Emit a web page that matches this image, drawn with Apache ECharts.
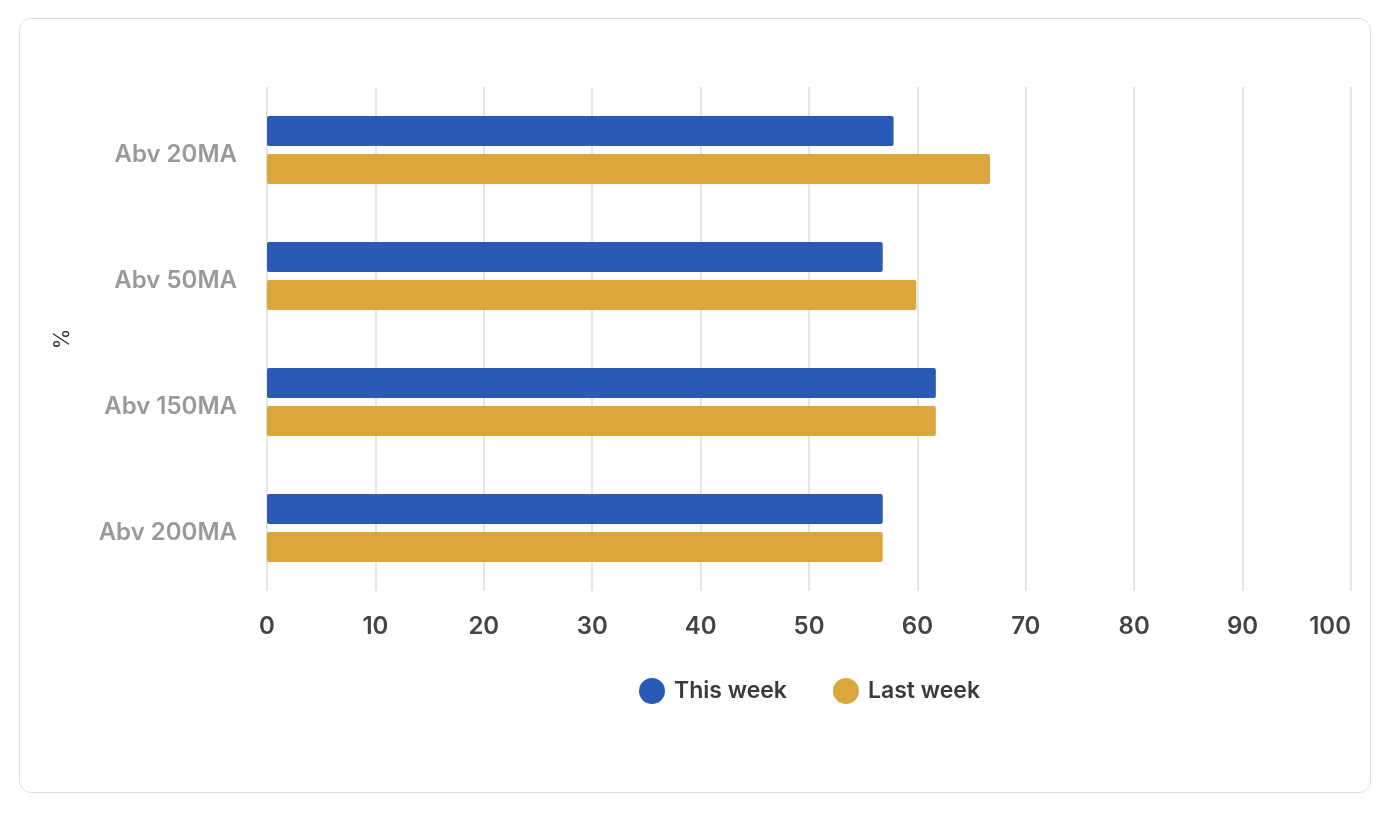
<!DOCTYPE html>
<html>
<head>
<meta charset="utf-8">
<script src="https://cdn.jsdelivr.net/npm/echarts@6/dist/echarts.min.js"></script>
<style>
html,body{margin:0;padding:0;background:#fff;}
#card{position:absolute;left:19px;top:18px;width:1350px;height:773px;border:1.5px solid #dedede;border-radius:12px;box-sizing:content-box;}
#chart{position:absolute;left:0;top:0;width:1388px;height:814px;}
</style>
</head>
<body>
<div id="card"></div>
<div id="chart"></div>
<script>
const categories = ['Abv 20MA', 'Abv 50MA', 'Abv 150MA', 'Abv 200MA'];
const thisWeek = [57.8, 56.8, 61.7, 56.8];
const lastWeek = [66.7, 59.9, 61.7, 56.8];
const seriesNames = ['This week', 'Last week'];
const xTicks = {min: 0, max: 100, interval: 10};

const chart = echarts.init(document.getElementById('chart'));
const font = 'Inter, "Noto Sans", sans-serif';
chart.setOption({
  animation: false,
  grid: {left: 267, top: 87, width: 1084, height: 504, containLabel: false},
  legend: {
    data: seriesNames,
    left: 634, top: 673,
    icon: 'circle', itemWidth: 26, itemHeight: 26, itemGap: 46,
    textStyle: {fontFamily: font, fontSize: 23, fontWeight: 600, color: '#3a3a3a', padding: [0, 0, 0, 4]}
  },
  xAxis: {
    type: 'value', min: xTicks.min, max: xTicks.max, interval: xTicks.interval,
    axisLine: {show: false}, axisTick: {show: false},
    splitLine: {lineStyle: {color: '#dcdcdc', width: 1.5}},
    axisLabel: {fontFamily: font, fontSize: 24, fontWeight: 600, color: '#444', margin: 24, alignMaxLabel: 'right'}
  },
  yAxis: {
    type: 'category', data: categories, inverse: true,
    axisLine: {show: false}, axisTick: {show: false},
    axisLabel: {
      margin: 30,
      formatter: v => '{a|' + v + '}',
      rich: {a: {fontFamily: font, fontSize: 24, fontWeight: 600, color: '#999', padding: [10, 0, 0, 0]}}
    },
    name: '%', nameLocation: 'middle', nameGap: 194, nameRotate: 90,
    nameTextStyle: {fontFamily: font, fontSize: 21, color: '#333'}
  },
  series: [
    {name: seriesNames[0], type: 'bar', data: thisWeek, barWidth: 30, barGap: '26.7%',
     itemStyle: {color: '#2b59b8', borderRadius: 2}},
    {name: seriesNames[1], type: 'bar', data: lastWeek, barWidth: 30, barGap: '26.7%',
     itemStyle: {color: '#dba73c', borderRadius: 2}}
  ]
});
</script>
</body>
</html>
